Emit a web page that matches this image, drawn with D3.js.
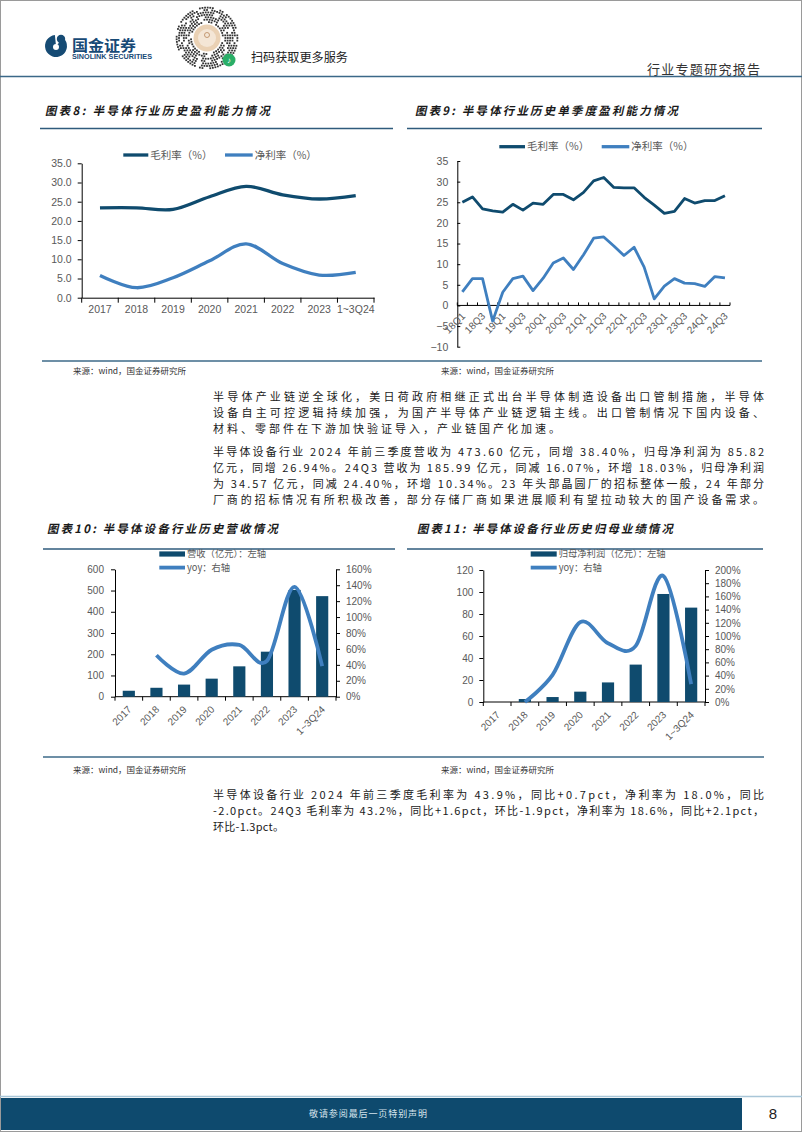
<!DOCTYPE html>
<html><head><meta charset="utf-8">
<script src="https://cdn.jsdelivr.net/npm/d3@7"></script>
<style>body{margin:0;background:#fff;}svg{display:block;}</style>
</head><body>
<svg id="page" width="802" height="1133"></svg>
<script>
// ================= DATA =================
const years = ["2017","2018","2019","2020","2021","2022","2023","1~3Q24"];
const grossMarginYearly = [23.4,23.4,23.0,26.3,29.0,26.8,25.7,26.6];
const netMarginYearly   = [5.8,2.6,5.2,9.6,14.0,8.9,5.9,6.6];
const yearlyTicks = [0,5,10,15,20,25,30,35];

const quarters = ["18Q1","18Q2","18Q3","18Q4","19Q1","19Q2","19Q3","19Q4","20Q1","20Q2","20Q3","20Q4",
  "21Q1","21Q2","21Q3","21Q4","22Q1","22Q2","22Q3","22Q4","23Q1","23Q2","23Q3","23Q4","24Q1","24Q2","24Q3"];
const grossMarginQ = [25.0,26.3,23.4,22.9,22.6,24.5,23.1,24.8,24.5,26.9,26.9,25.6,27.4,30.2,31.0,28.6,28.5,28.5,26.2,24.3,22.3,22.8,25.9,24.8,25.4,25.4,26.6];
const netMarginQ   = [3.3,6.5,6.5,-3.8,3.2,6.5,7.1,3.6,6.6,10.3,11.5,8.7,12.3,16.3,16.6,14.4,12.1,14.1,9.3,1.6,4.7,6.5,5.4,5.3,4.6,7.0,6.7];
const quarterTicks = [-10,-5,0,5,10,15,20,25,30,35];

const revenue    = [28,42,57,85,143,212,503,473.6];
const revenueYoy = [null,0.52,0.29,0.59,0.65,0.45,1.38,0.384];
const revenueTicks = [0,100,200,300,400,500,600];
const revenueYoyTicks = [0,0.2,0.4,0.6,0.8,1.0,1.2,1.4,1.6];

const netProfit    = [0,2.7,4.5,9.4,17.8,34.0,98.2,85.8];
const netProfitYoy = [null,0,0.41,1.21,0.89,0.85,1.91,0.27];
const profitTicks = [0,20,40,60,80,100,120];
const profitYoyTicks = [0,0.2,0.4,0.6,0.8,1.0,1.2,1.4,1.6,1.8,2.0];

// ================= STYLE =================
const SANS = "'Liberation Sans', Arial, sans-serif";
const CJK = "'Noto Sans CJK SC', 'Noto Sans', sans-serif";
const DARK = "#0f4b6e", LIGHT = "#3f7fbf", LBL = "#595959";
const svg = d3.select("#page");

svg.append("rect").attr("x",0.5).attr("y",0.5).attr("width",801).attr("height",1131)
  .attr("fill","#fff").attr("stroke","#9a9a9a");

// ================= HEADER =================
const hdr = svg.append("g");
hdr.append("path").attr("transform","translate(56,46)")
  .attr("d", d3.arc()({innerRadius:0, outerRadius:11, startAngle:0.75, endAngle:2*Math.PI-0.1}))
  .attr("fill","#164b74");
hdr.append("circle").attr("cx",61).attr("cy",39).attr("r",4.2).attr("fill","#164b74");
hdr.append("circle").attr("cx",56).attr("cy",47).attr("r",3).attr("fill","#fff");
hdr.append("text").attr("x",72).attr("y",51).attr("font-family",CJK).attr("font-weight","bold")
  .attr("font-size",15).attr("fill","#174a76").attr("textLength",64).attr("lengthAdjust","spacingAndGlyphs").text("国金证券");
hdr.append("text").attr("x",72).attr("y",59).attr("font-family",SANS).attr("font-weight","bold")
  .attr("font-size",7).attr("fill","#174a76").attr("textLength",80).attr("lengthAdjust","spacingAndGlyphs").text("SINOLINK SECURITIES");
// mini-program code decoration
const qr = hdr.append("g").attr("transform","translate(207,38)");
for (let r = 16; r <= 31; r += 2.4) {
  const n = Math.round(2*Math.PI*r/2.6);
  for (let k = 0; k < n; k++) {
    if (((k*7 + Math.round(r)*3 + (k*k)%5) % 4) === 0) continue;
    const a = 2*Math.PI*k/n;
    qr.append("rect").attr("x",Math.cos(a)*r-0.9).attr("y",Math.sin(a)*r-0.9).attr("width",1.8).attr("height",1.8).attr("fill","#333");
  }
}
qr.append("circle").attr("r",13.5).attr("fill","#ead1b4");
qr.append("circle").attr("r",9).attr("fill","#f4e6d6");
qr.append("circle").attr("cy",-3).attr("r",2.5).attr("fill","none").attr("stroke","#b7875a").attr("stroke-width",0.8);
qr.append("circle").attr("cx",22).attr("cy",22).attr("r",6.5).attr("fill","#2aae67");
qr.append("text").attr("x",22).attr("y",25).attr("text-anchor","middle").attr("font-size",8).attr("fill","#fff").attr("font-family",SANS).text("♪");
hdr.append("text").attr("x",251).attr("y",62).attr("font-family",CJK).attr("font-size",12.5).attr("fill","#222")
  .attr("textLength",97).attr("lengthAdjust","spacingAndGlyphs").text("扫码获取更多服务");
hdr.append("text").attr("x",647).attr("y",74).attr("font-family",CJK).attr("font-size",13).attr("fill","#333")
  .attr("textLength",113).attr("lengthAdjust","spacing").text("行业专题研究报告");
hdr.append("line").attr("x1",0).attr("x2",802).attr("y1",76.5).attr("y2",76.5).attr("stroke","#3b6888").attr("stroke-width",1.6);

// ================= HELPERS =================
function title(x, y, txt, len) {
  svg.append("text").attr("transform",`translate(${x},${y}) skewX(-12)`)
    .attr("font-family",CJK).attr("font-weight","bold").attr("font-size",11.5).attr("fill","#1a1a1a")
    .attr("textLength",len).attr("lengthAdjust","spacing").text(txt);
}
function hline(x1,x2,y,color,w){ svg.append("line").attr("x1",x1).attr("x2",x2).attr("y1",y).attr("y2",y).attr("stroke",color).attr("stroke-width",w); }
function styleAxis(sel, size) {
  sel.selectAll("path.domain").attr("stroke","#000").attr("stroke-width",1);
  sel.selectAll(".tick line").attr("stroke","#000");
  sel.selectAll("text").attr("fill",LBL).attr("font-family",SANS).attr("font-size",size);
}
function legendLine(g,x1,x2,y,color,w,txt,size){
  g.append("line").attr("x1",x1).attr("x2",x2).attr("y1",y).attr("y2",y).attr("stroke",color).attr("stroke-width",w);
  g.append("text").attr("x",x2+2).attr("y",y).attr("dy","0.36em").attr("font-family",CJK).attr("font-size",size).attr("fill",LBL).text(txt);
}
function legendRect(g,x,w,y,color,txt,size){
  g.append("rect").attr("x",x).attr("y",y-2.6).attr("width",w).attr("height",5.2).attr("fill",color);
  g.append("text").attr("x",x+w+2).attr("y",y).attr("dy","0.36em").attr("font-family",CJK).attr("font-size",size).attr("fill",LBL).text(txt);
}
function boundaryTicks(g, xs, y0, len) {
  const n = xs.domain().length;
  for (let i = 0; i <= n; i++) {
    const xx = xs.range()[0] + i*xs.step();
    g.append("line").attr("x1",xx).attr("x2",xx).attr("y1",y0).attr("y2",y0+len).attr("stroke","#000");
  }
}

// ================= CHART 8 =================
title(45,114.5,"图表8: 半导体行业历史盈利能力情况",225);
hline(40,393,128.5,"#2f5b7c",1.3);
{
  const g = svg.append("g");
  const x = d3.scaleBand().domain(years).range([81.7,374]);
  const y = d3.scaleLinear().domain([0,35]).range([297.7,163.3]);
  const ya = g.append("g").attr("transform","translate(81.7,0)")
    .call(d3.axisLeft(y).tickValues(yearlyTicks).tickFormat(d3.format(".1f")).tickSizeInner(4).tickSizeOuter(0).tickPadding(6));
  styleAxis(ya,10.5);
  const xa = g.append("g").attr("transform","translate(0,297.7)")
    .call(d3.axisBottom(x).tickSize(0).tickPadding(8));
  styleAxis(xa,10.5);
  boundaryTicks(g,x,297.7,5);
  const cx = (k)=> x(k)+x.bandwidth()/2;
  const line = d3.line().x((d,i)=>cx(years[i])).y(d=>y(d)).curve(d3.curveCardinal.tension(0));
  g.append("path").attr("d",line(grossMarginYearly)).attr("fill","none").attr("stroke",DARK).attr("stroke-width",3.3);
  g.append("path").attr("d",line(netMarginYearly)).attr("fill","none").attr("stroke",LIGHT).attr("stroke-width",3.3);
  legendLine(g,123.3,148.3,155,DARK,3.3,"毛利率（%）",10.5);
  legendLine(g,225,252.7,155,LIGHT,3.3,"净利率（%）",10.5);
}

// ================= CHART 9 =================
title(415,114.5,"图表9: 半导体行业历史单季度盈利能力情况",263);
hline(407,762,128.5,"#2f5b7c",1.3);
{
  const g = svg.append("g");
  const x = d3.scaleBand().domain(quarters).range([457.3,730]);
  const y = d3.scaleLinear().domain([-10,35]).range([346.7,161]);
  const ya = g.append("g").attr("transform","translate(457.3,0)")
    .call(d3.axisLeft(y).tickValues(quarterTicks).tickSizeInner(-3).tickSizeOuter(0).tickPadding(9));
  styleAxis(ya,10.5);
  const y0 = y(0);
  g.append("line").attr("x1",457.3).attr("x2",730).attr("y1",y0).attr("y2",y0).attr("stroke","#000");
  boundaryTicks(g,x,y0,-3);
  const cx = (k)=> x(k)+x.bandwidth()/2;
  quarters.forEach((q,i)=>{
    if (i%2) return;
    g.append("text").attr("transform",`translate(${cx(q)+1},${y0+9}) rotate(-45)`)
      .attr("text-anchor","end").attr("dy","0.35em").attr("font-family",SANS).attr("font-size",10).attr("fill",LBL).text(q);
  });
  const line = d3.line().x((d,i)=>cx(quarters[i])).y(d=>y(d));
  g.append("path").attr("d",line(grossMarginQ)).attr("fill","none").attr("stroke",DARK).attr("stroke-width",2.8).attr("stroke-linejoin","round");
  g.append("path").attr("d",line(netMarginQ)).attr("fill","none").attr("stroke",LIGHT).attr("stroke-width",2.8).attr("stroke-linejoin","round");
  legendLine(g,499.3,525,146.7,DARK,3.3,"毛利率（%）",10.5);
  legendLine(g,601.7,629.3,146.7,LIGHT,3.3,"净利率（%）",10.5);
}
hline(42,762,361,"#3d6a88",1.6);
function source(x,y){ svg.append("text").attr("x",x).attr("y",y).attr("dy","0.35em").attr("font-family",CJK).attr("font-size",8.5).attr("fill","#333").text("来源：wind，国金证券研究所"); }
source(73,371); source(441,371);

// ================= BODY TEXT =================
const BX0 = 213, BX1 = 764;
function bodyLine(y, txt, full, endX) {
  const t = svg.append("text").attr("x",BX0).attr("y",y).attr("dy","0.36em").attr("font-family",CJK)
    .attr("font-size",11).attr("fill","#1a1a1a").text(txt);
  t.attr("textLength", (full ? BX1 : endX) - BX0).attr("lengthAdjust","spacing");
}
bodyLine(397,"半导体产业链逆全球化，美日荷政府相继正式出台半导体制造设备出口管制措施，半导体",true);
bodyLine(413,"设备自主可控逻辑持续加强，为国产半导体产业链逻辑主线。出口管制情况下国内设备、",true);
bodyLine(429,"材料、零部件在下游加快验证导入，产业链国产化加速。",false,560);
bodyLine(452,"半导体设备行业 2024 年前三季度营收为 473.60 亿元，同增 38.40%，归母净利润为 85.82",true);
bodyLine(468,"亿元，同增 26.94%。24Q3 营收为 185.99 亿元，同减 16.07%，环增 18.03%，归母净利润",true);
bodyLine(484,"为 34.57 亿元，同减 24.40%，环增 10.34%。23 年头部晶圆厂的招标整体一般，24 年部分",true);
bodyLine(500,"厂商的招标情况有所积极改善，部分存储厂商如果进展顺利有望拉动较大的国产设备需求。",true);

// ================= CHART 10 =================
title(47,532.5,"图表10: 半导体设备行业历史营收情况",231);
hline(43,395,549,"#2f5b7c",1.3);
{
  const g = svg.append("g");
  const x = d3.scaleBand().domain(years).range([115,336]);
  const yL = d3.scaleLinear().domain([0,600]).range([696.7,569.3]);
  const yR = d3.scaleLinear().domain([0,1.6]).range([696.7,569.3]);
  const la = g.append("g").attr("transform","translate(115,0)")
    .call(d3.axisLeft(yL).tickValues(revenueTicks).tickSizeInner(4).tickSizeOuter(0).tickPadding(7));
  styleAxis(la,10);
  const ra = g.append("g").attr("transform","translate(336,0)")
    .call(d3.axisRight(yR).tickValues(revenueYoyTicks).tickFormat(d3.format(".0%")).tickSizeInner(4).tickSizeOuter(0).tickPadding(6));
  styleAxis(ra,10);
  g.append("line").attr("x1",115).attr("x2",336).attr("y1",696.7).attr("y2",696.7).attr("stroke","#000");
  boundaryTicks(g,x,696.7,4);
  const cx = (k)=> x(k)+x.bandwidth()/2;
  const bw = x.bandwidth()*0.44;
  g.selectAll("rect.bar").data(revenue).join("rect").attr("class","bar")
    .attr("x",(d,i)=>cx(years[i])-bw/2).attr("width",bw).attr("y",d=>yL(d)).attr("height",d=>yL(0)-yL(d)).attr("fill",DARK);
  const line = d3.line().defined(d=>d!==null).x((d,i)=>cx(years[i])).y(d=>yR(d)).curve(d3.curveCardinal.tension(0));
  g.append("path").attr("d",line(revenueYoy)).attr("fill","none").attr("stroke",LIGHT).attr("stroke-width",3.8);
  years.forEach(k=>{
    g.append("text").attr("transform",`translate(${cx(k)+1},${696.7+11}) rotate(-45)`)
      .attr("text-anchor","end").attr("dy","0.35em").attr("font-family",SANS).attr("font-size",10).attr("fill",LBL).text(k);
  });
  legendRect(g,159.3,25.7,554,DARK,"营收（亿元）：左轴",9.3);
  legendLine(g,159.3,185,567.6,LIGHT,3.8,"yoy：右轴",9.3);
}

// ================= CHART 11 =================
title(417,532.5,"图表11: 半导体设备行业历史归母业绩情况",256);
hline(407,763,549,"#2f5b7c",1.3);
{
  const g = svg.append("g");
  const x = d3.scaleBand().domain(years).range([483.3,705]);
  const yL = d3.scaleLinear().domain([0,120]).range([702,570]);
  const yR = d3.scaleLinear().domain([0,2]).range([702,570]);
  const la = g.append("g").attr("transform","translate(483.3,0)")
    .call(d3.axisLeft(yL).tickValues(profitTicks).tickSizeInner(4).tickSizeOuter(0).tickPadding(6));
  styleAxis(la,10);
  const ra = g.append("g").attr("transform","translate(705,0)")
    .call(d3.axisRight(yR).tickValues(profitYoyTicks).tickFormat(d3.format(".0%")).tickSizeInner(4).tickSizeOuter(0).tickPadding(6));
  styleAxis(ra,10);
  g.append("line").attr("x1",483.3).attr("x2",705).attr("y1",702).attr("y2",702).attr("stroke","#000");
  boundaryTicks(g,x,702,4);
  const cx = (k)=> x(k)+x.bandwidth()/2;
  const bw = x.bandwidth()*0.44;
  g.selectAll("rect.bar").data(netProfit).join("rect").attr("class","bar")
    .attr("x",(d,i)=>cx(years[i])-bw/2).attr("width",bw).attr("y",d=>yL(d)).attr("height",d=>yL(0)-yL(d)).attr("fill",DARK);
  const line = d3.line().defined(d=>d!==null).x((d,i)=>cx(years[i])).y(d=>yR(d)).curve(d3.curveCardinal.tension(0));
  g.append("path").attr("d",line(netProfitYoy)).attr("fill","none").attr("stroke",LIGHT).attr("stroke-width",3.8);
  years.forEach(k=>{
    g.append("text").attr("transform",`translate(${cx(k)+1},${702+11}) rotate(-45)`)
      .attr("text-anchor","end").attr("dy","0.35em").attr("font-family",SANS).attr("font-size",10).attr("fill",LBL).text(k);
  });
  legendRect(g,530.7,26,554,DARK,"归母净利润（亿元）：左轴",9.3);
  legendLine(g,530.7,556.7,567.6,LIGHT,3.8,"yoy：右轴",9.3);
}
hline(43,764,757,"#3d6a88",1.6);
source(73,770.5); source(441,770.5);

bodyLine(795,"半导体设备行业 2024 年前三季度毛利率为 43.9%，同比+0.7pct，净利率为 18.0%，同比",true);
bodyLine(811,"-2.0pct。24Q3 毛利率为 43.2%，同比+1.6pct，环比-1.9pct，净利率为 18.6%，同比+2.1pct，",true);
bodyLine(827,"环比-1.3pct。",false,284);

// ================= FOOTER =================
hline(0,802,1096.5,"#a9c6d8",1.5);
svg.append("rect").attr("x",1).attr("y",1098).attr("width",741).attr("height",32).attr("fill","#0e4a6e");
svg.append("text").attr("x",368).attr("y",1114).attr("dy","0.35em").attr("text-anchor","middle")
  .attr("font-family",CJK).attr("font-size",9).attr("fill","#d5e3ec").attr("textLength",118).attr("lengthAdjust","spacing").text("敬请参阅最后一页特别声明");
svg.append("text").attr("x",773).attr("y",1114).attr("dy","0.36em").attr("text-anchor","middle")
  .attr("font-family",SANS).attr("font-size",15).attr("fill","#222").text("8");
</script>
</body></html>
